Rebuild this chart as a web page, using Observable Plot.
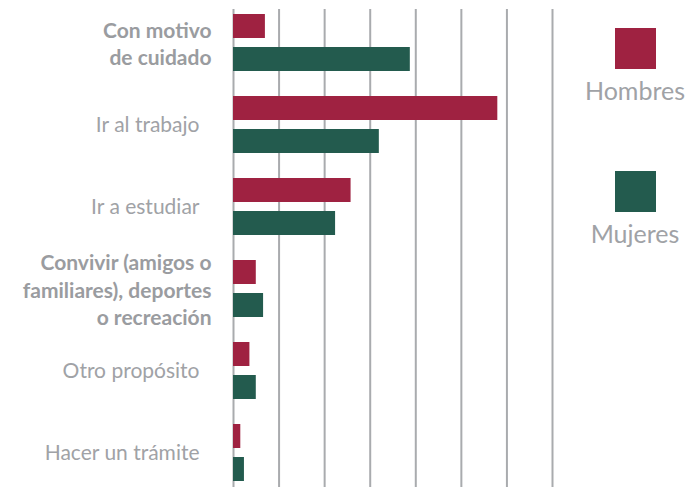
<!DOCTYPE html>
<html>
<head>
<meta charset="utf-8">
<script src="https://cdn.jsdelivr.net/npm/d3@7"></script>
<script src="https://cdn.jsdelivr.net/npm/@observablehq/plot@0.6"></script>
<style>
  html, body { margin: 0; padding: 0; background: #fff; }
  #wrap { position: relative; width: 689px; height: 487px; font-family: Lato, "Open Sans", sans-serif; }
  #legend { position: absolute; left: 575px; top: 0; width: 120px; }
  .item { position: absolute; left: 0; width: 120px; text-align: center; color: #a0a2a6; font-size: 25px; }
  .sw { width: 41px; height: 41px; margin: 0 auto 6px auto; }
</style>
</head>
<body>
<div id="wrap"><div id="legend"></div></div>
<script>
const categories = [
  "Con motivo\nde cuidado",
  "Ir al trabajo",
  "Ir a estudiar",
  "Convivir (amigos o\nfamiliares), deportes\no recreación",
  "Otro propósito",
  "Hacer un trámite"
];
const series = ["Hombres", "Mujeres"];
const hombres = [3.5, 29.0, 12.9, 2.5, 1.8, 0.8];
const mujeres = [19.4, 16.0, 11.2, 3.3, 2.5, 1.2];
const gridTicks = [0, 5, 10, 15, 20, 25, 30, 35];
const colors = ["#9f2241", "#235b4e"];

const rowsH = categories.map((c, i) => ({cat: c, value: hombres[i]}));
const rowsM = categories.map((c, i) => ({cat: c, value: mujeres[i]}));

const textColor = "#a0a2a6";
const gridColor = "#a9abae";

const chart = Plot.plot({
  width: 689,
  height: 487,
  marginTop: 9,
  marginBottom: 0,
  marginLeft: 233,
  marginRight: 137,
  style: {fontFamily: "Lato, 'Open Sans', sans-serif", background: "#fff"},
  x: {domain: [0, 35], axis: null},
  y: {domain: categories, axis: null, paddingInner: 0.3, paddingOuter: 0.05},
  marks: [
    Plot.ruleX(gridTicks, {stroke: gridColor, strokeWidth: 2}),
    Plot.barX(rowsH, {y: "cat", x: "value", fill: colors[0], insetBottom: 33}),
    Plot.barX(rowsM, {y: "cat", x: "value", fill: colors[1], insetTop: 33}),
    Plot.text(categories.filter(d => !d.includes("\n")), {
      y: d => d, text: d => d, frameAnchor: "left", textAnchor: "end",
      dx: -34, fill: textColor, fontSize: 21, fontWeight: 400
    }),
    Plot.text(categories.filter(d => d.includes("\n")), {
      y: d => d, text: d => d, frameAnchor: "left", textAnchor: "end",
      dx: -22, fill: "#9a9ca0", fontSize: 21, fontWeight: 700, lineHeight: 1.3
    })
  ]
});
document.getElementById("wrap").prepend(chart);

const legend = document.getElementById("legend");
const tops = [28, 171];
series.forEach((s, i) => {
  const it = document.createElement("div");
  it.className = "item";
  it.style.top = tops[i] + "px";
  const sw = document.createElement("div");
  sw.className = "sw";
  sw.style.background = colors[i];
  it.appendChild(sw);
  const lab = document.createElement("div");
  lab.textContent = s;
  it.appendChild(lab);
  legend.appendChild(it);
});
</script>
</body>
</html>
